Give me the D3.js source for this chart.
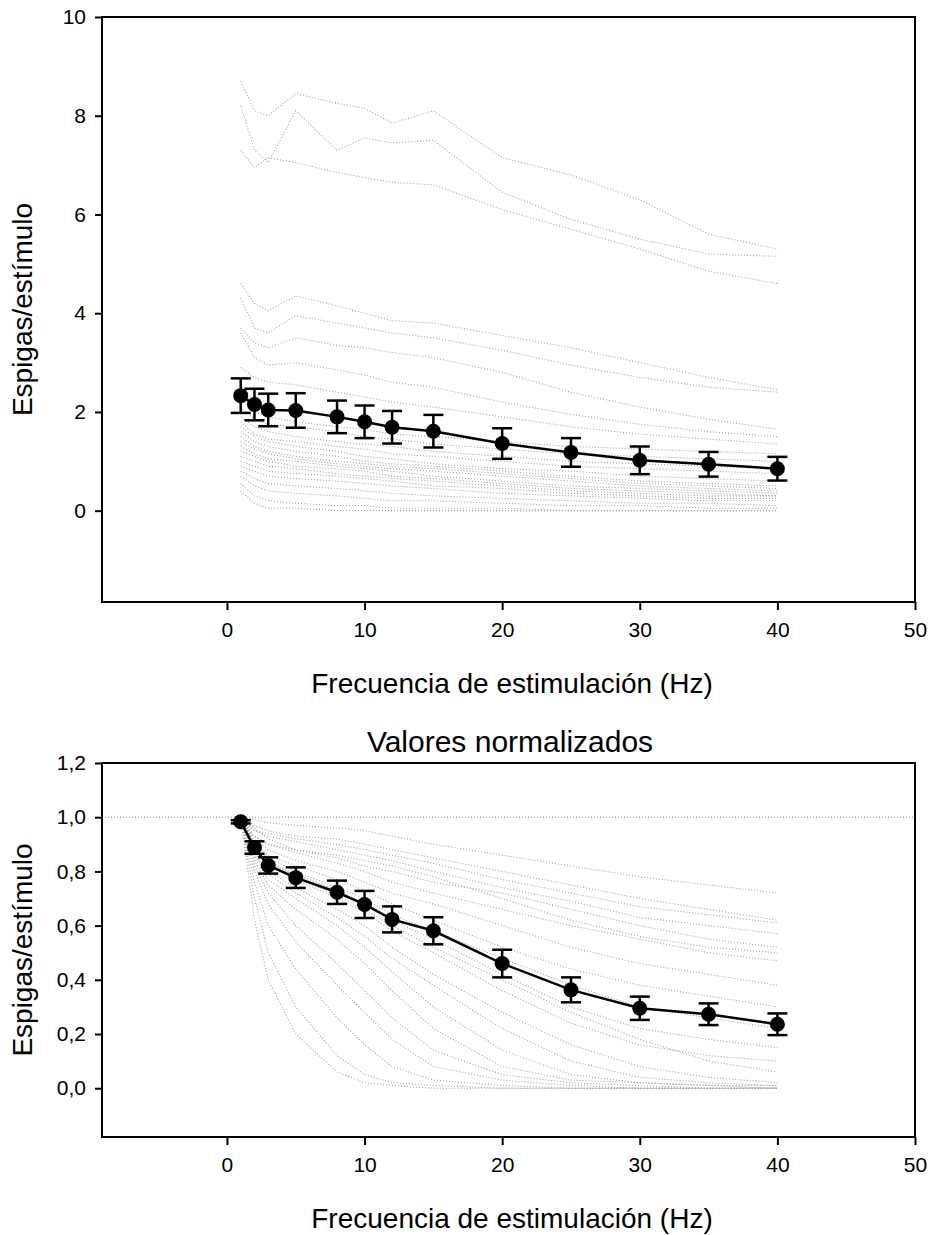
<!DOCTYPE html>
<meta charset="utf-8">
<style>
body { margin: 0; background: #fff; }
svg { display: block; font-family: "Liberation Sans", Arial, sans-serif; }
.tick text { font-size: 21px; fill: #000; font-family: "Liberation Sans", Arial, sans-serif; }
.tick line { stroke: #000; stroke-width: 2px; }
.frame { fill: none; stroke: #000; stroke-width: 2px; }
.trace { fill: none; stroke: #a0a0a0; stroke-width: 1.1px; stroke-dasharray: 1,2; }
.mean { fill: none; stroke: #000; stroke-width: 2.5px; }
.err { stroke: #000; stroke-width: 2.5px; }
.title { font-size: 28px; fill: #000; }
</style>
<body>
<script src="https://d3js.org/d3.v7.min.js"></script>
<script>
// stimulation frequencies (Hz)
var freqs = [1, 2, 3, 5, 8, 10, 12, 15, 20, 25, 30, 35, 40];

// mean spikes/stimulus and error (top panel)
var meanRaw = [2.33, 2.15, 2.04, 2.03, 1.90, 1.80, 1.69, 1.61, 1.36, 1.18, 1.02, 0.94, 0.85];
var errRaw  = [0.35, 0.32, 0.33, 0.35, 0.33, 0.33, 0.33, 0.33, 0.31, 0.29, 0.28, 0.25, 0.24];

// normalized mean and error (bottom panel)
var meanNorm = [0.983, 0.888, 0.822, 0.777, 0.723, 0.678, 0.623, 0.581, 0.460, 0.363, 0.295, 0.273, 0.236];
var errNorm  = [0.006, 0.023, 0.030, 0.038, 0.043, 0.050, 0.048, 0.050, 0.051, 0.046, 0.043, 0.040, 0.040];

// individual cells, spikes/stimulus
var cellsRaw = [
  [8.70, 8.10, 8.00, 8.45, 8.25, 8.15, 7.85, 8.10, 7.15, 6.80, 6.30, 5.60, 5.30],
  [8.20, 7.30, 7.05, 8.10, 7.30, 7.55, 7.45, 7.50, 6.45, 5.90, 5.50, 5.20, 5.15],
  [7.30, 6.95, 7.15, 7.05, 6.85, 6.75, 6.65, 6.60, 6.10, 5.70, 5.30, 4.85, 4.60],
  [4.60, 4.20, 4.05, 4.35, 4.15, 4.00, 3.85, 3.80, 3.55, 3.30, 3.00, 2.70, 2.45],
  [4.30, 3.70, 3.60, 3.95, 3.80, 3.70, 3.60, 3.50, 3.25, 2.95, 2.70, 2.50, 2.40],
  [3.70, 3.40, 3.30, 3.50, 3.35, 3.30, 3.20, 3.10, 2.80, 2.40, 2.10, 1.85, 1.65],
  [3.60, 3.10, 2.95, 3.00, 2.85, 2.75, 2.60, 2.50, 2.20, 1.95, 1.75, 1.60, 1.50],
  [2.90, 2.70, 2.60, 2.55, 2.40, 2.30, 2.20, 2.10, 1.90, 1.70, 1.55, 1.45, 1.35],
  [2.30, 2.00, 1.90, 1.80, 1.70, 1.65, 1.55, 1.50, 1.40, 1.30, 1.25, 1.20, 1.15],
  [2.10, 1.85, 1.75, 1.70, 1.60, 1.50, 1.45, 1.35, 1.25, 1.15, 1.10, 1.05, 1.00],
  [1.90, 1.70, 1.60, 1.50, 1.40, 1.35, 1.30, 1.20, 1.10, 1.00, 0.95, 0.90, 0.85],
  [1.80, 1.55, 1.45, 1.40, 1.30, 1.25, 1.15, 1.10, 1.00, 0.90, 0.85, 0.80, 0.75],
  [1.70, 1.50, 1.40, 1.30, 1.20, 1.10, 1.05, 0.95, 0.85, 0.80, 0.70, 0.65, 0.60],
  [1.60, 1.40, 1.30, 1.20, 1.10, 1.00, 0.95, 0.90, 0.80, 0.70, 0.60, 0.55, 0.50],
  [1.50, 1.30, 1.20, 1.10, 1.00, 0.95, 0.90, 0.85, 0.75, 0.65, 0.55, 0.50, 0.45],
  [1.40, 1.25, 1.15, 1.05, 0.95, 0.90, 0.85, 0.80, 0.70, 0.60, 0.50, 0.45, 0.40],
  [1.30, 1.15, 1.05, 1.00, 0.90, 0.85, 0.80, 0.70, 0.60, 0.50, 0.45, 0.40, 0.35],
  [1.20, 1.10, 1.00, 0.90, 0.85, 0.80, 0.70, 0.65, 0.55, 0.45, 0.40, 0.35, 0.30],
  [1.10, 1.00, 0.90, 0.85, 0.75, 0.70, 0.65, 0.60, 0.50, 0.40, 0.35, 0.30, 0.30],
  [1.00, 0.90, 0.80, 0.75, 0.70, 0.65, 0.60, 0.50, 0.45, 0.35, 0.30, 0.25, 0.25],
  [0.90, 0.80, 0.70, 0.65, 0.60, 0.55, 0.50, 0.45, 0.35, 0.30, 0.25, 0.20, 0.20],
  [0.80, 0.65, 0.55, 0.50, 0.45, 0.40, 0.35, 0.30, 0.25, 0.20, 0.15, 0.15, 0.10],
  [0.70, 0.50, 0.40, 0.35, 0.30, 0.25, 0.20, 0.20, 0.15, 0.10, 0.10, 0.05, 0.05],
  [0.55, 0.30, 0.20, 0.15, 0.10, 0.10, 0.05, 0.05, 0.05, 0.00, 0.00, 0.00, 0.00],
  [0.40, 0.15, 0.05, 0.05, 0.00, 0.00, 0.00, 0.00, 0.00, 0.00, 0.00, 0.00, 0.00]
];

// individual cells, normalized to 1 Hz
var cellsNorm = [
  [1, 0.99, 0.98, 0.97, 0.96, 0.95, 0.93, 0.90, 0.86, 0.82, 0.78, 0.75, 0.72],
  [1, 0.95, 0.94, 0.92, 0.90, 0.88, 0.86, 0.83, 0.77, 0.72, 0.67, 0.64, 0.61],
  [1, 0.97, 0.95, 0.93, 0.92, 0.90, 0.88, 0.85, 0.80, 0.75, 0.70, 0.66, 0.62],
  [1, 0.95, 0.93, 0.91, 0.88, 0.86, 0.84, 0.80, 0.74, 0.69, 0.63, 0.60, 0.57],
  [1, 0.96, 0.92, 0.88, 0.85, 0.82, 0.80, 0.76, 0.72, 0.66, 0.60, 0.55, 0.52],
  [1, 0.93, 0.90, 0.88, 0.86, 0.84, 0.82, 0.78, 0.70, 0.62, 0.56, 0.52, 0.50],
  [1, 0.93, 0.90, 0.87, 0.83, 0.80, 0.76, 0.72, 0.66, 0.60, 0.55, 0.50, 0.47],
  [1, 0.92, 0.88, 0.84, 0.80, 0.76, 0.72, 0.68, 0.60, 0.52, 0.46, 0.42, 0.38],
  [1, 0.90, 0.86, 0.82, 0.77, 0.73, 0.68, 0.62, 0.52, 0.44, 0.38, 0.34, 0.30],
  [1, 0.91, 0.85, 0.80, 0.74, 0.70, 0.64, 0.58, 0.48, 0.38, 0.30, 0.26, 0.22],
  [1, 0.89, 0.83, 0.79, 0.73, 0.68, 0.62, 0.55, 0.42, 0.30, 0.22, 0.18, 0.15],
  [1, 0.88, 0.82, 0.77, 0.70, 0.65, 0.58, 0.50, 0.36, 0.24, 0.16, 0.12, 0.10],
  [1, 0.90, 0.84, 0.78, 0.71, 0.66, 0.60, 0.52, 0.40, 0.28, 0.18, 0.10, 0.06],
  [1, 0.87, 0.80, 0.74, 0.66, 0.60, 0.52, 0.42, 0.28, 0.16, 0.08, 0.04, 0.02],
  [1, 0.86, 0.79, 0.72, 0.63, 0.56, 0.48, 0.38, 0.22, 0.10, 0.04, 0.02, 0.01],
  [1, 0.85, 0.77, 0.70, 0.60, 0.52, 0.43, 0.30, 0.14, 0.05, 0.02, 0.01, 0.01],
  [1, 0.84, 0.75, 0.66, 0.55, 0.46, 0.36, 0.22, 0.08, 0.03, 0.02, 0.01, 0.00],
  [1, 0.82, 0.72, 0.60, 0.46, 0.36, 0.26, 0.14, 0.05, 0.02, 0.01, 0.00, 0.00],
  [1, 0.80, 0.68, 0.54, 0.38, 0.28, 0.18, 0.08, 0.03, 0.01, 0.00, 0.00, 0.00],
  [1, 0.76, 0.60, 0.44, 0.26, 0.16, 0.08, 0.03, 0.01, 0.00, 0.00, 0.00, 0.00],
  [1, 0.70, 0.50, 0.30, 0.12, 0.05, 0.02, 0.01, 0.00, 0.00, 0.00, 0.00, 0.00],
  [1, 0.62, 0.40, 0.20, 0.06, 0.02, 0.01, 0.00, 0.00, 0.00, 0.00, 0.00, 0.00]
];

var xTicks = [0, 10, 20, 30, 40, 50];
var yTicksRaw = [0, 2, 4, 6, 8, 10];
var yTicksNorm = [0, 0.2, 0.4, 0.6, 0.8, 1.0, 1.2];

var W = 929, H = 1235;
var svg = d3.select("body").append("svg").attr("width", W).attr("height", H);

var commaFmt = function (d) { return d3.format(".1f")(d).replace(".", ","); };

function panel(opt) {
    var x = d3.scaleLinear().domain([-9.08, 50]).range([102, 915]);
    var y = d3.scaleLinear().domain(opt.yDomain).range([opt.bottom, opt.top]);
    var g = svg.append("g");

    // reference line at 1.0
    if (opt.refLine) {
        g.append("line")
            .attr("x1", x.range()[0]).attr("x2", x.range()[1])
            .attr("y1", y(1)).attr("y2", y(1))
            .attr("stroke", "#888").attr("stroke-width", 1)
            .attr("stroke-dasharray", "1,2");
    }

    var line = d3.line()
        .x(function (d, i) { return x(freqs[i]); })
        .y(function (d) { return y(d); });

    // individual cells
    g.selectAll(".trace").data(opt.cells).enter().append("path")
        .attr("class", "trace")
        .attr("d", line);

    // mean line
    g.append("path").attr("class", "mean").attr("d", line(opt.mean));

    // error bars
    var eb = g.selectAll(".eb").data(opt.mean).enter().append("g");
    eb.append("line").attr("class", "err")
        .attr("x1", function (d, i) { return x(freqs[i]); })
        .attr("x2", function (d, i) { return x(freqs[i]); })
        .attr("y1", function (d, i) { return y(d + opt.err[i]); })
        .attr("y2", function (d, i) { return y(d - opt.err[i]); });
    [1, -1].forEach(function (s) {
        eb.append("line").attr("class", "err")
            .attr("x1", function (d, i) { return x(freqs[i]) - 10; })
            .attr("x2", function (d, i) { return x(freqs[i]) + 10; })
            .attr("y1", function (d, i) { return y(d + s * opt.err[i]); })
            .attr("y2", function (d, i) { return y(d + s * opt.err[i]); });
    });

    g.selectAll(".pt").data(opt.mean).enter().append("circle")
        .attr("cx", function (d, i) { return x(freqs[i]); })
        .attr("cy", function (d) { return y(d); })
        .attr("r", 7.5)
        .attr("fill", "#000");

    // axes
    var ax = g.append("g")
        .attr("transform", "translate(0," + opt.bottom + ")")
        .call(d3.axisBottom(x).tickValues(xTicks).tickSize(8).tickPadding(12));
    ax.select(".domain").remove();

    var ay = g.append("g")
        .attr("transform", "translate(102,0)")
        .call(d3.axisLeft(y).tickValues(opt.yTicks).tickFormat(opt.fmt).tickSize(7).tickPadding(9));
    ay.select(".domain").remove();

    g.append("rect").attr("class", "frame")
        .attr("x", 102).attr("y", opt.top)
        .attr("width", 915 - 102).attr("height", opt.bottom - opt.top);

    // titles
    g.append("text").attr("class", "title")
        .attr("x", 512).attr("y", opt.bottom + 91)
        .attr("text-anchor", "middle")
        .text("Frecuencia de estimulación (Hz)");
    g.append("text").attr("class", "title")
        .attr("transform", "translate(32," + ((opt.top + opt.bottom) / 2) + ") rotate(-90)")
        .attr("text-anchor", "middle")
        .text("Espigas/estímulo");
}

panel({
    top: 17, bottom: 602, yDomain: [-1.85, 10],
    yTicks: yTicksRaw, fmt: d3.format("d"),
    cells: cellsRaw, mean: meanRaw, err: errRaw
});

panel({
    top: 763, bottom: 1137, yDomain: [-0.18, 1.2],
    yTicks: yTicksNorm, fmt: commaFmt,
    cells: cellsNorm, mean: meanNorm, err: errNorm, refLine: true
});

svg.append("text")
    .attr("x", 510).attr("y", 752)
    .attr("text-anchor", "middle")
    .attr("font-size", 30)
    .text("Valores normalizados");
</script>
</body>
